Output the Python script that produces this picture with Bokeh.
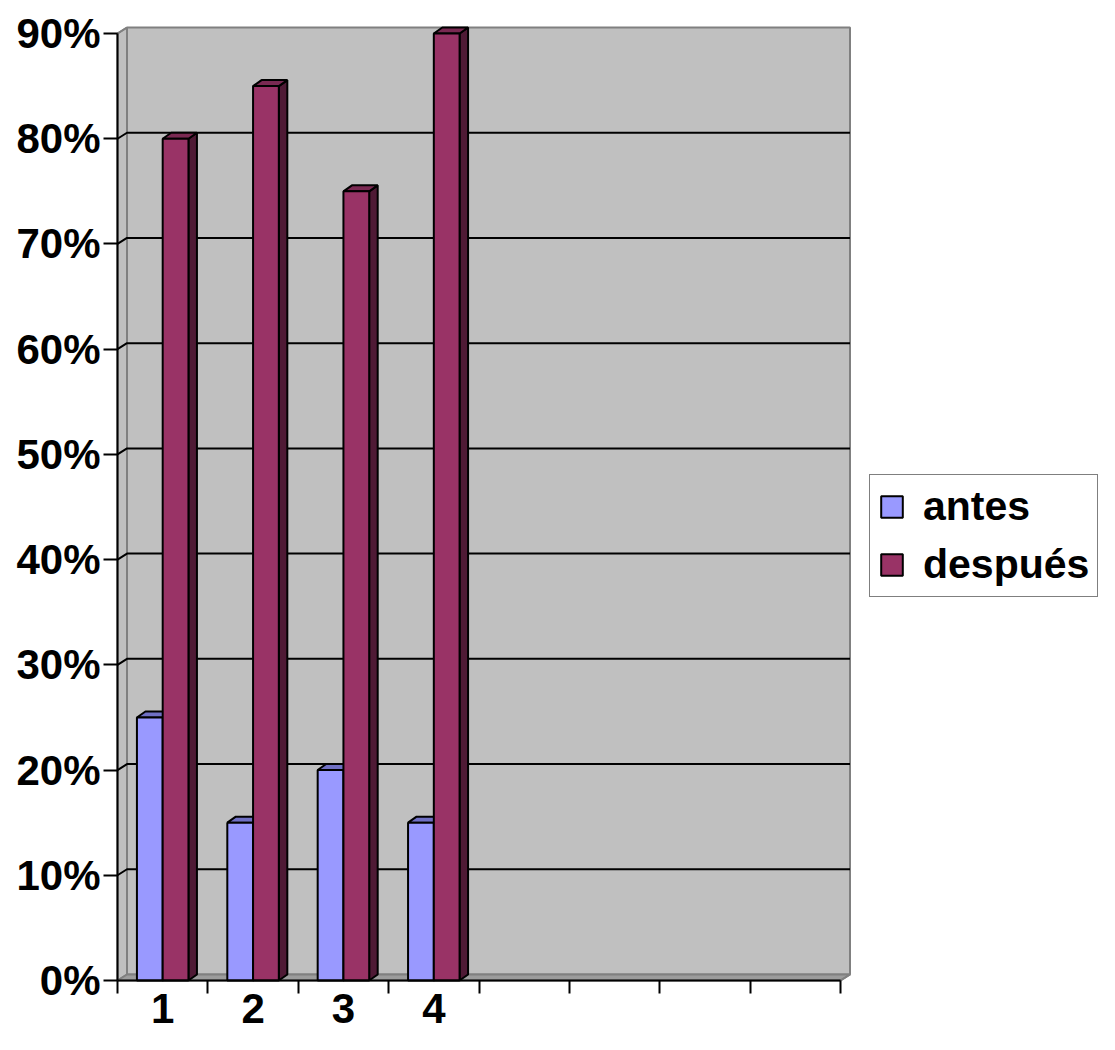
from bokeh.plotting import figure
from bokeh.models import Range1d, FixedTicker, Legend, LegendItem
from bokeh.embed import file_html
from bokeh.resources import INLINE

# ---------------- data ----------------
categories = ["1", "2", "3", "4"]
n_slots = 8                      # category slots drawn on the x axis
antes = [25, 15, 20, 15]         # %
despues = [80, 85, 75, 90]       # %
series_names = ["antes", "después"]
y_ticks = [0, 10, 20, 30, 40, 50, 60, 70, 80, 90]
y_tick_labels = ["0%", "10%", "20%", "30%", "40%", "50%", "60%", "70%", "80%", "90%"]

# ---------------- layout constants ----------------
W, H = 1099, 1034
X0_PX, Y0_PX = 117, 980          # canvas pixel of data origin
PX_X = 90.375                    # pixels per category slot
PX_Y = 947 / 90                  # pixels per percent


def dxp(px):
    return px / PX_X


def dyp(px):
    return px / PX_Y


WALL_DX, WALL_DY = dxp(9.5), dyp(6)
BAR_DX, BAR_DY = dxp(8.5), dyp(6)
BAR_L, BAR_M, BAR_R = 0.215, 0.5, 0.785
YMAX = y_ticks[-1]

FONT = "Liberation Sans"
C_WALL = "#C0C0C0"
C_EDGE = "#808080"
C_ANT, C_ANT_TOP, C_ANT_SIDE = "#9999FF", "#7070C4", "#4D4D80"
C_DES, C_DES_TOP, C_DES_SIDE = "#993366", "#7A2952", "#4F1A35"

p = figure(width=W, height=H, output_backend="svg", toolbar_location=None,
           title=None,
           x_range=Range1d(-X0_PX / PX_X, (W - X0_PX) / PX_X),
           y_range=Range1d(-(H - Y0_PX) / PX_Y, Y0_PX / PX_Y),
           min_border=0, min_border_left=0, min_border_right=0,
           min_border_top=0, min_border_bottom=0)
p.outline_line_color = None
p.grid.visible = False
p.background_fill_color = "white"
p.border_fill_color = "white"

# ---------------- walls ----------------
p.patch([WALL_DX, n_slots + WALL_DX, n_slots + WALL_DX, WALL_DX],
        [WALL_DY, WALL_DY, YMAX + WALL_DY, YMAX + WALL_DY],
        fill_color=C_WALL, line_color=C_EDGE, line_width=2)
p.patch([0, WALL_DX, WALL_DX, 0],
        [0, WALL_DY, YMAX + WALL_DY, YMAX],
        fill_color=C_WALL, line_color=C_EDGE, line_width=2)
p.patch([0, n_slots, n_slots + WALL_DX, WALL_DX],
        [0, 0, WALL_DY, WALL_DY],
        fill_color="#9C9C9C", line_color=C_EDGE, line_width=2)

gx, gy = [], []
for t in y_ticks[1:-1]:
    gx.append([0, WALL_DX, n_slots + WALL_DX])
    gy.append([t, t + WALL_DY, t + WALL_DY])
p.multi_line(gx, gy, line_color="black", line_width=2)
p.multi_line([[0, WALL_DX], [n_slots, n_slots + WALL_DX]],
             [[YMAX, YMAX + WALL_DY], [0, WALL_DY]],
             line_color=C_EDGE, line_width=2)


# ---------------- 3-D bars ----------------
def bar_faces(vals, lo, hi):
    xs_top, ys_top, xs_side, ys_side, lefts, rights = [], [], [], [], [], []
    for i, v in enumerate(vals):
        l, r = i + lo, i + hi
        lefts.append(l)
        rights.append(r)
        xs_top.append([l, r, r + BAR_DX, l + BAR_DX])
        ys_top.append([v, v, v + BAR_DY, v + BAR_DY])
        xs_side.append([r, r + BAR_DX, r + BAR_DX, r])
        ys_side.append([0, BAR_DY, v + BAR_DY, v])
    return lefts, rights, xs_top, ys_top, xs_side, ys_side


renderers = []
for vals, lo, hi, cf, ct, cs in [(antes, BAR_L, BAR_M, C_ANT, C_ANT_TOP, C_ANT_SIDE),
                                  (despues, BAR_M, BAR_R, C_DES, C_DES_TOP, C_DES_SIDE)]:
    lefts, rights, xt, yt, xsd, ysd = bar_faces(vals, lo, hi)
    p.patches(xsd, ysd, fill_color=cs, line_color="black", line_width=2)
    p.patches(xt, yt, fill_color=ct, line_color="black", line_width=2)
    r = p.quad(left=lefts, right=rights, bottom=[0] * len(vals), top=vals,
               fill_color=cf, line_color="black", line_width=2)
    renderers.append(r)

# ---------------- axes ----------------
xa = p.xaxis[0]
xa.fixed_location = 0
xa.bounds = (0, n_slots)
xa.ticker = FixedTicker(ticks=[i + 0.5 for i in range(len(categories))],
                        minor_ticks=list(range(n_slots + 1)))
xa.major_label_overrides = {i + 0.5: c for i, c in enumerate(categories)}
xa.axis_line_color = "black"
xa.axis_line_width = 2
xa.major_tick_line_color = None
xa.major_tick_out = 0
xa.major_tick_in = 0
xa.minor_tick_line_color = "black"
xa.minor_tick_line_width = 2
xa.minor_tick_out = 13
xa.minor_tick_in = 0
xa.major_label_standoff = 0
xa.major_label_text_font = FONT
xa.major_label_text_font_style = "bold"
xa.major_label_text_font_size = "42px"
xa.major_label_text_color = "black"

ya = p.yaxis[0]
ya.fixed_location = 0
ya.bounds = (0, YMAX)
ya.ticker = FixedTicker(ticks=y_ticks, minor_ticks=[])
ya.major_label_overrides = {t: l for t, l in zip(y_ticks, y_tick_labels)}
ya.axis_line_color = "black"
ya.axis_line_width = 2
ya.major_tick_line_color = "black"
ya.major_tick_line_width = 2
ya.major_tick_out = 14
ya.major_tick_in = 0
ya.minor_tick_line_color = None
ya.major_label_standoff = 3
ya.major_label_text_font = FONT
ya.major_label_text_font_style = "bold"
ya.major_label_text_font_size = "42px"
ya.major_label_text_color = "black"

# ---------------- legend ----------------
legend = Legend(items=[LegendItem(label=series_names[0], renderers=[renderers[0]]),
                       LegendItem(label=series_names[1], renderers=[renderers[1]])],
                location=(869, 437))
legend.label_text_font = FONT
legend.label_text_font_style = "bold"
legend.label_text_font_size = "41px"
legend.label_text_color = "black"
legend.glyph_width = 27
legend.glyph_height = 27
legend.label_height = 46
legend.label_standoff = 18
legend.padding = 8
legend.spacing = 11
legend.margin = 0
legend.border_line_color = "black"
legend.border_line_width = 1.5
legend.background_fill_color = "white"
legend.background_fill_alpha = 1.0
p.add_layout(legend, "center")

open("out.html", "w").write(file_html(p, INLINE))
